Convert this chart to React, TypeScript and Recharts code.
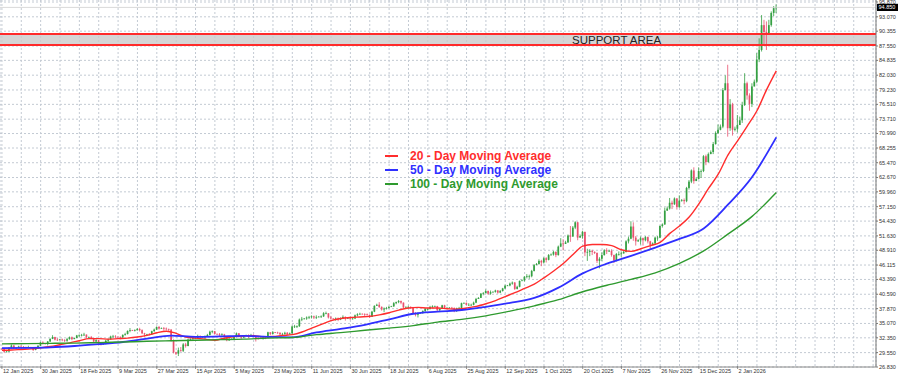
import {
  ComposedChart,
  Bar,
  Line,
  XAxis,
  YAxis,
  CartesianGrid,
  ReferenceArea,
  ReferenceLine,
  ReferenceDot,
  Legend,
} from "recharts";

const FONT = '"Liberation Sans", Arial, sans-serif';
const BULL = "#35a043";
const BEAR = "#e9506e";

// daily bars, 12 Jan 2025 .. 21 Jan 2026 (one row per week)
const FIRST_OPEN = 30.3;
const closes = [
  30.2, 29.72, 29.75, 30.45, 30.9, 30.4,
  30.45, 30.7, 30.65, 30.55, 30.45, 30.6,
  30.5, 30.05, 30.4, 30.85, 31.45, 31.3,
  31.2, 31.65, 32.15, 32.5, 32.0, 31.9,
  32.05, 31.9, 31.8, 32.1, 32.45, 32.1,
  32.3, 32.8, 32.8, 32.9, 32.95, 32.45,
  32.5, 32.3, 31.65, 31.9, 31.3, 31.1,
  31.2, 31.8, 32.05, 32.6, 32.6, 32.55,
  32.45, 32.4, 32.9, 33.05, 33.65, 33.8,
  33.75, 33.8, 34.0, 33.8, 33.2, 33.0,
  33.05, 33.0, 33.6, 33.9, 34.4, 34.1,
  34.2, 34.1, 34.0, 33.9, 31.9, 29.6,
  29.35, 30.0, 29.9, 31.1, 30.8, 32.0,
  32.15, 32.3, 32.3, 32.7, 32.45,
  32.5, 32.6, 32.9, 33.5, 33.6, 33.1,
  33.05, 33.0, 33.0, 32.6, 31.9, 32.0,
  32.15, 32.5, 33.2, 32.6, 32.4, 32.7,
  32.85, 32.6, 32.9, 32.6, 32.3, 32.2,
  32.3, 32.4, 32.35, 33.4, 33.1, 33.4,
  33.35, 33.3, 33.0, 33.1, 33.3, 33.0,
  33.2, 34.5, 34.5, 34.55, 35.8, 35.95,
  36.0, 36.2, 36.3, 36.4, 36.2, 36.3,
  36.35, 36.4, 37.0, 37.0, 36.2, 36.0,
  35.95, 36.0, 35.8, 36.0, 36.3, 36.0,
  36.1, 36.0, 36.0, 36.6, 36.8, 36.9,
  36.85, 36.8, 36.7, 36.3, 37.3, 38.4,
  38.6, 38.2, 37.7, 37.9, 38.0, 38.2,
  38.3, 38.9, 39.1, 39.3, 39.0, 38.1,
  38.2, 38.2, 38.1, 37.0, 36.7, 37.0,
  37.05, 37.4, 37.8, 37.8, 38.2, 38.3,
  38.35, 37.6, 37.8, 38.5, 38.0, 38.0,
  38.05, 38.0, 37.4, 37.9, 38.0, 38.9,
  38.95, 38.6, 38.6, 38.6, 39.0, 39.7,
  39.9, 40.7, 40.8, 41.2, 40.7, 41.0,
  41.05, 41.3, 40.9, 41.2, 41.7, 42.2,
  42.25, 42.6, 42.8, 41.6, 42.0, 43.1,
  43.2, 43.9, 44.0, 44.0, 45.0, 46.1,
  46.3, 46.9, 46.6, 47.4, 47.1, 48.0,
  48.1, 48.6, 48.0, 49.6, 50.2, 50.1,
  50.4, 51.7, 51.5, 53.2, 54.2, 51.3,
  51.6, 52.4, 48.5, 48.6, 48.8, 48.6,
  48.4, 46.9, 47.3, 48.0, 48.9, 48.7,
  48.8, 48.0, 47.0, 48.2, 48.2, 48.3,
  48.6, 50.6, 51.1, 53.4, 51.3, 50.6,
  50.8, 51.2, 50.8, 51.4, 50.6, 49.9,
  50.2, 51.3, 51.3, 53.5, 53.8, 56.4,
  56.8, 57.9, 57.6, 58.7, 57.1, 58.3,
  58.4, 58.2, 60.7, 61.9, 64.0, 62.0,
  62.4, 63.9, 63.9, 66.7, 65.6, 67.1,
  67.5, 69.0, 71.1, 71.7, 72.3, 79.2,
  80.5, 72.0, 76.5, 71.7, 71.9, 72.6,
  73.5, 76.4, 80.5, 78.2, 76.6, 79.9,
  80.8, 85.0, 86.8, 91.5, 90.2, 89.9,
  91.5, 93.8, 94.7, 94.85,
];

const highs = [
  30.32, 30.25, 29.95, 30.6, 31.1, 30.95,
  30.5, 30.85, 30.95, 30.8, 30.7, 30.85,
  30.65, 30.55, 30.55, 30.95, 31.6, 31.7,
  31.35, 31.75, 32.25, 32.85, 32.55, 32.3,
  32.15, 32.2, 32.1, 32.35, 32.6, 32.6,
  32.4, 32.9, 33.0, 33.1, 33.3, 33.0,
  32.6, 32.7, 32.35, 32.1, 31.95, 31.4,
  31.3, 31.95, 32.2, 32.75, 32.9, 32.85,
  32.6, 32.65, 33.0, 33.3, 33.75, 34.2,
  33.85, 33.95, 34.2, 34.25, 33.95, 33.3,
  33.1, 33.25, 33.7, 34.1, 34.5, 34.6,
  34.3, 34.4, 34.3, 34.1, 34.0, 32.05,
  29.7, 30.5, 30.6, 31.35, 31.4, 32.2,
  32.25, 32.5, 32.55, 32.95, 32.8,
  32.6, 32.8, 33.1, 33.7, 33.75, 33.65,
  33.15, 33.25, 33.2, 33.1, 32.65, 32.35,
  32.25, 32.65, 33.35, 33.25, 32.8, 32.85,
  32.95, 33.0, 33.1, 33.0, 32.65, 32.55,
  32.4, 32.55, 32.6, 33.5, 33.4, 33.65,
  33.45, 33.5, 33.4, 33.3, 33.5, 33.45,
  33.35, 34.65, 34.8, 34.7, 36.0, 36.3,
  36.1, 36.4, 36.5, 36.6, 36.55, 36.6,
  36.45, 36.6, 37.2, 37.3, 37.0, 36.5,
  36.05, 36.2, 36.2, 36.2, 36.6, 36.4,
  36.2, 36.3, 36.3, 36.75, 37.0, 37.1,
  36.95, 37.0, 36.95, 36.75, 37.45, 38.5,
  38.8, 39.1, 38.3, 38.1, 38.2, 38.4,
  38.4, 39.1, 39.2, 39.5, 39.4, 39.05,
  38.3, 38.4, 38.3, 38.2, 37.2, 37.2,
  37.15, 37.55, 37.95, 38.0, 38.4, 38.5,
  38.45, 38.4, 37.95, 38.6, 38.6, 38.2,
  38.15, 38.2, 38.1, 38.05, 38.2, 39.0,
  39.05, 39.05, 38.9, 38.8, 39.2, 39.9,
  40.05, 40.8, 41.0, 41.5, 41.3, 41.3,
  41.15, 41.45, 41.4, 41.4, 41.8, 42.4,
  42.35, 42.8, 43.0, 42.9, 42.2, 43.2,
  43.4, 44.0, 44.4, 44.3, 45.2, 46.3,
  46.5, 47.2, 47.1, 47.6, 47.6, 48.2,
  48.3, 48.8, 48.7, 49.8, 51.2, 51.0,
  50.7, 51.9, 53.5, 53.5, 54.4, 54.3,
  51.9, 52.6, 52.4, 49.2, 49.1, 49.0,
  48.7, 48.5, 47.6, 48.5, 49.1, 49.3,
  49.0, 49.1, 48.1, 48.4, 48.7, 48.7,
  48.8, 50.8, 51.5, 54.4, 54.2, 51.6,
  51.0, 51.5, 51.3, 51.6, 51.5, 50.7,
  50.4, 51.5, 51.6, 53.6, 54.0, 57.0,
  57.2, 58.8, 58.3, 58.9, 58.8, 59.3,
  58.6, 58.7, 60.9, 62.2, 64.2, 64.6,
  62.7, 64.6, 64.2, 66.9, 67.0, 67.4,
  67.8, 69.4, 71.4, 72.7, 72.7, 79.6,
  82.0, 84.0, 77.5, 76.8, 72.3, 74.5,
  74.2, 77.0, 82.4, 80.8, 78.6, 80.5,
  81.2, 86.2, 89.0, 93.4, 92.5, 92.2,
  92.5, 94.1, 95.1, 95.4,
];

const lows = [
  30.12, 29.55, 29.6, 29.7, 30.4, 30.25,
  30.35, 30.4, 30.45, 30.4, 30.3, 30.4,
  30.45, 29.85, 30.0, 30.35, 30.8, 31.1,
  31.1, 30.9, 31.55, 32.1, 31.85, 31.75,
  31.95, 31.7, 31.55, 31.6, 32.0, 31.9,
  32.15, 32.3, 32.55, 32.6, 32.7, 32.25,
  32.4, 32.1, 31.5, 31.55, 31.2, 30.9,
  31.05, 31.1, 31.6, 32.0, 32.4, 32.3,
  32.4, 32.05, 32.35, 32.75, 33.0, 33.4,
  33.65, 33.55, 33.7, 33.55, 33.05, 32.55,
  32.95, 32.8, 32.95, 33.5, 33.85, 33.9,
  34.05, 33.7, 33.75, 33.5, 31.65, 29.4,
  29.1, 28.9, 29.7, 29.65, 30.5, 30.75,
  31.95, 31.9, 32.1, 32.2, 32.25,
  32.4, 32.15, 32.5, 32.8, 33.2, 32.95,
  32.95, 32.7, 32.75, 32.4, 31.7, 31.8,
  32.0, 32.0, 32.45, 32.4, 32.15, 32.3,
  32.7, 32.3, 32.5, 32.45, 31.65, 32.0,
  32.15, 32.0, 32.1, 32.3, 32.85, 32.95,
  33.25, 33.1, 32.8, 32.85, 32.9, 32.9,
  33.05, 33.1, 34.2, 34.2, 34.4, 35.5,
  35.85, 35.75, 35.9, 36.0, 35.9, 35.9,
  36.25, 36.1, 36.3, 36.8, 36.0, 35.8,
  35.85, 35.6, 35.5, 35.7, 35.9, 35.6,
  35.95, 35.7, 35.8, 35.9, 36.4, 36.7,
  36.75, 36.4, 36.5, 36.1, 36.3, 37.2,
  38.4, 38.0, 37.5, 37.2, 37.7, 37.9,
  38.2, 38.2, 38.7, 38.9, 38.7, 37.9,
  38.05, 37.9, 37.8, 36.9, 36.4, 36.2,
  36.95, 36.9, 37.3, 37.5, 37.7, 38.0,
  38.25, 37.4, 37.4, 37.8, 37.8, 37.8,
  37.95, 37.8, 37.2, 37.25, 37.7, 37.9,
  38.85, 38.5, 38.4, 38.4, 38.5, 38.9,
  39.75, 39.9, 40.4, 40.8, 40.5, 40.5,
  40.95, 40.9, 40.7, 40.8, 41.1, 41.6,
  42.15, 42.1, 42.4, 41.4, 41.5, 41.9,
  43.1, 43.0, 43.6, 43.5, 43.8, 44.9,
  46.1, 46.2, 45.9, 46.4, 46.6, 47.0,
  47.9, 47.9, 47.6, 47.9, 49.5, 48.9,
  50.2, 50.3, 50.5, 51.5, 52.9, 50.8,
  51.3, 51.1, 47.8, 46.9, 47.8, 48.0,
  48.2, 46.5, 45.5, 46.9, 47.9, 48.2,
  48.6, 47.7, 46.5, 46.8, 47.9, 47.7,
  48.4, 48.5, 50.2, 51.0, 50.7, 49.8,
  50.5, 50.0, 49.8, 50.6, 50.2, 49.0,
  49.9, 49.9, 50.7, 51.2, 53.2, 53.7,
  56.4, 56.6, 56.7, 57.5, 56.6, 56.9,
  58.1, 57.6, 58.0, 60.4, 61.6, 61.5,
  62.1, 62.3, 62.6, 63.7, 65.0, 65.5,
  67.2, 67.1, 68.9, 70.9, 71.6, 72.0,
  79.6, 70.4, 71.5, 70.6, 71.4, 71.2,
  72.8, 73.0, 76.2, 77.4, 75.3, 76.0,
  80.1, 80.5, 84.5, 86.5, 87.8, 86.8,
  90.5, 91.2, 93.2, 93.8,
];

// moving averages
const ma20 = [ // every 4th bar
  30.0, 30.05, 30.15, 30.25, 30.45, 30.7, 31.05, 31.4, 31.8, 32.2,
  32.2, 32.1, 32.2, 32.3, 32.5, 32.8, 33.3, 33.6, 33.2, 32.5,
  32.3, 32.1, 31.9, 32.28, 32.6, 32.7, 32.76, 32.55, 32.6, 32.8,
  32.95, 33.45, 34.2, 34.9, 35.6, 36.0, 36.2, 36.3, 36.4, 36.7,
  37.1, 37.6, 38.0, 38.1, 38.0, 38.0, 37.85, 37.75, 38.0, 38.3,
  38.8, 39.4, 40.15, 40.9, 41.7, 42.5, 43.7, 45.0, 46.4, 48.1,
  49.7, 50.0, 50.0, 49.8, 49.0, 48.7, 49.2, 49.8, 50.4, 52.1,
  53.5, 55.2, 57.7, 60.6, 63.3, 66.9, 69.6, 72.4, 75.3, 79.3,
  82.85,
];
const ma50 = [ // every 10th bar
  30.4, 30.45, 30.55, 30.8, 31.15, 31.56, 32.18, 32.78, 32.54, 32.62,
  32.73, 32.53, 32.45, 33.36, 34.04, 34.81, 35.84, 36.9, 37.29, 37.61,
  38.22, 38.95, 39.89, 41.84, 44.53, 46.38, 47.86, 49.42, 51.05, 53.04,
  57.53, 62.78, 70.26,
];
const ma100 = [ // every 10th bar
  31.2, 31.25, 31.3, 31.35, 31.45, 31.55, 31.7, 31.8, 31.9, 32.0,
  32.1, 32.3, 32.4, 32.95, 33.33, 33.77, 34.19, 34.66, 35.32, 35.83,
  36.51, 37.4, 38.4, 39.56, 41.07, 42.3, 43.41, 44.65, 46.44, 48.79,
  51.96, 55.32, 59.84,
];

const maNames = ["20 - Day Moving Average", "50 - Day Moving Average", "100 - Day Moving Average"];

const dateLabels = [ // every 16th bar
  "12 Jan 2025", "30 Jan 2025", "18 Feb 2025", "9 Mar 2025", "27 Mar 2025",
  "15 Apr 2025", "5 May 2025", "23 May 2025", "11 Jun 2025", "30 Jun 2025",
  "18 Jul 2025", "6 Aug 2025", "25 Aug 2025", "12 Sep 2025", "1 Oct 2025",
  "20 Oct 2025", "7 Nov 2025", "26 Nov 2025", "15 Dec 2025", "2 Jan 2026",
];

const priceTicks = [
  26.83, 29.55, 32.35, 35.07, 37.87, 40.59, 43.39, 46.115, 48.91, 51.63,
  54.43, 57.15, 59.96, 62.67, 65.47, 68.255, 70.99, 73.71, 76.51, 79.23,
  82.03, 84.835, 87.55, 90.355, 93.07, 95.87,
];

const supportLow = 87.75;
const supportHigh = 89.8;
const supportLabelBar = 254;

const candles = closes.map((close, i) => {
  const open = i === 0 ? FIRST_OPEN : closes[i - 1];
  const hi = Math.max(highs[i], open, close);
  const lo = Math.min(lows[i], open, close);
  return { i, open, close, high: hi, low: lo, range: [lo, hi] };
});

const ma20Data = ma20.map((v, k) => ({ i: k * 4, v }));
const ma50Data = ma50.map((v, k) => ({ i: k * 10, v }));
const ma100Data = ma100.map((v, k) => ({ i: k * 10, v }));

const lastClose = closes[closes.length - 1];
const gridTicks = Array.from({ length: 46 }, (_, k) => k * 8);

function Candle(props: any) {
  const { x, y, width, height, payload } = props;
  if (!payload || height == null) return null;
  const { open, close, high, low } = payload;
  const span = high - low;
  const k = span > 0 ? height / span : 0;
  const cx = x + width / 2;
  const yO = y + (high - open) * k;
  const yC = y + (high - close) * k;
  const color = close >= open ? BULL : BEAR;
  const bw = 1.7;
  return (
    <g>
      <line x1={cx} x2={cx} y1={y} y2={y + height} stroke={color} strokeWidth={0.8} />
      <rect
        x={cx - bw / 2}
        y={Math.min(yO, yC)}
        width={bw}
        height={Math.max(Math.abs(yC - yO), 0.7)}
        fill={color}
      />
    </g>
  );
}

function DateTick({ x, y, payload }: any) {
  const v = payload.value;
  const label = v % 16 === 0 ? dateLabels[v / 16] : undefined;
  if (!label) return null;
  return (
    <g>
      <line x1={x} x2={x} y1={y - 1} y2={y + 2} stroke="#777" strokeWidth={0.8} />
      <text x={x + 1} y={y + 6.3} fontSize={5.5} fill="#333" fontFamily={FONT}>
        {label}
      </text>
    </g>
  );
}

function PriceTag({ viewBox }: any) {
  if (!viewBox) return null;
  const x = viewBox.x + viewBox.width;
  const y = viewBox.y;
  return (
    <g>
      <rect x={x + 1} y={y - 3.6} width={21} height={7.2} fill="#000" />
      <text x={x + 2.5} y={y + 2} fontSize={5.5} fill="#fff" fontFamily={FONT}>
        {lastClose.toFixed(3)}
      </text>
    </g>
  );
}

function MaLegend({ payload }: any) {
  const items = (payload || [])
    .filter((p: any) => maNames.includes(p.value))
    .sort((a: any, b: any) => maNames.indexOf(a.value) - maNames.indexOf(b.value));
  return (
    <div style={{ fontFamily: FONT, fontWeight: 700, fontSize: 12 }}>
      {items.map((e: any) => (
        <div key={e.value} style={{ display: "flex", alignItems: "center", height: 14 }}>
          <span style={{ width: 13, height: 2, background: e.color, marginRight: 12 }} />
          <span style={{ color: e.color, lineHeight: "14px" }}>{e.value}</span>
        </div>
      ))}
    </div>
  );
}

export default function App() {
  return (
    <div style={{ position: "absolute", left: 0, top: 0, width: 900, height: 375, background: "#fff", fontFamily: FONT }}>
      <ComposedChart width={900} height={375} data={candles} margin={{ top: 0, right: 0, bottom: 0, left: 0 }}>
        <CartesianGrid stroke="#c3cad3" strokeDasharray="2 2" />
        <XAxis
          dataKey="i"
          type="number"
          domain={[-0.8, 361.2]}
          allowDataOverflow
          ticks={gridTicks}
          interval={0}
          height={8}
          tickSize={0}
          tickMargin={0}
          tickLine={false}
          axisLine={{ stroke: "#888" }}
          tick={<DateTick />}
        />
        <YAxis
          orientation="right"
          domain={[26.83, 96.25]}
          allowDataOverflow
          ticks={priceTicks}
          interval={0}
          width={24}
          tickSize={2}
          tickMargin={1}
          axisLine={{ stroke: "#777" }}
          tickLine={{ stroke: "#777" }}
          tick={{ fontSize: 5.5, fill: "#333", fontFamily: FONT }}
          tickFormatter={(v: number) => v.toFixed(3)}
        />
        <ReferenceArea y1={supportLow} y2={supportHigh} fill="#cbcbcb" fillOpacity={0.8} stroke="none" />
        <ReferenceLine y={supportLow} stroke="#ff2b2b" strokeWidth={2} />
        <ReferenceLine y={supportHigh} stroke="#ff2b2b" strokeWidth={2} />
        <ReferenceDot
          x={supportLabelBar}
          y={(supportLow + supportHigh) / 2}
          r={0}
          fill="none"
          stroke="none"
          label={{ value: "SUPPORT AREA", position: "center", fontSize: 11.5, fill: "#222", fontFamily: FONT }}
        />
        <ReferenceLine y={lastClose} stroke="#cfcfcf" strokeWidth={0.8} label={<PriceTag />} />
        <Bar
          dataKey="range"
          barSize={2}
          legendType="none"
          isAnimationActive={false}
          shape={(p: any) => <Candle {...p} />}
        />
        <Line
          data={ma20Data}
          dataKey="v"
          name={maNames[0]}
          type="monotone"
          stroke="#ff2d2d"
          strokeWidth={1.4}
          dot={false}
          activeDot={false}
          isAnimationActive={false}
        />
        <Line
          data={ma50Data}
          dataKey="v"
          name={maNames[1]}
          type="monotone"
          stroke="#2f2fff"
          strokeWidth={1.8}
          dot={false}
          activeDot={false}
          isAnimationActive={false}
        />
        <Line
          data={ma100Data}
          dataKey="v"
          name={maNames[2]}
          type="monotone"
          stroke="#2e9a2e"
          strokeWidth={1.4}
          dot={false}
          activeDot={false}
          isAnimationActive={false}
        />
        <Legend
          layout="vertical"
          align="center"
          verticalAlign="middle"
          content={<MaLegend />}
          wrapperStyle={{ left: 385, top: 149, width: 200, height: 44 }}
        />
      </ComposedChart>
    </div>
  );
}
